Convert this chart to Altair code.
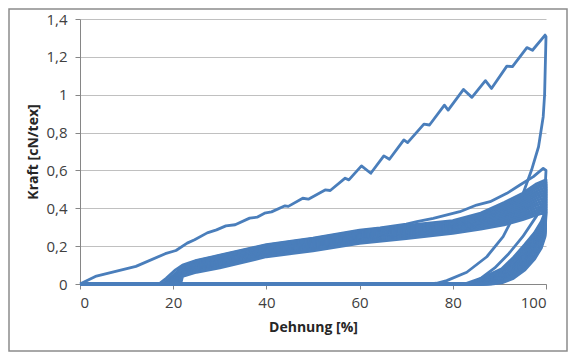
import altair as alt
import pandas as pd

BLUE = "#4A7EBB"

# Cycle 1 (first loading with zigzag, then unloading)
C1_X = [0, 3.3, 12, 18.3, 20.6, 23, 24.6, 27.3, 29.3, 31.3, 33.3, 36.4, 38, 39.6, 41.1,
        44, 44.7, 47.8, 49, 52.6, 53.7, 56.9, 57.7, 60.4, 62.4, 65.2, 66.4, 69.5, 70.3,
        73.8, 75, 78.2, 79, 82.3, 84.1, 87, 88.3, 91.6, 92.8, 95.9, 97.1, 99.8, 100,
        99.7, 99.4, 98.4, 96.9, 95.1, 93.0, 90.8, 87.3, 83.0, 78.7, 76.5, 75.0, 0]
C1_Y = [0, 0.04, 0.093, 0.16, 0.177, 0.216, 0.234, 0.27, 0.286, 0.307, 0.313, 0.348, 0.353,
        0.374, 0.381, 0.413, 0.41, 0.453, 0.448, 0.497, 0.494, 0.559, 0.55, 0.624, 0.585,
        0.677, 0.659, 0.761, 0.747, 0.845, 0.84, 0.945, 0.919, 1.028, 0.986, 1.074, 1.033,
        1.151, 1.148, 1.249, 1.235, 1.315, 1.306,
        1.0, 0.884, 0.725, 0.602, 0.479, 0.356, 0.25, 0.144, 0.062, 0.018, 0.004, 0, 0]

# Cycle 2 (upper edge of band, peak ~0.6)
C2_X = [0, 16.9, 18.5, 20.5, 22, 25, 30, 40, 50, 60, 64.4, 70, 72.3, 75.8, 81.5, 85.1, 88,
        91.6, 94.4, 97.3, 99.4, 100, 99.7, 98, 95, 92, 89, 86, 82.5, 0]
C2_Y = [0, 0, 0.03, 0.075, 0.1, 0.125, 0.152, 0.208, 0.242, 0.284, 0.296, 0.316, 0.329, 0.347,
        0.382, 0.417, 0.435, 0.479, 0.523, 0.567, 0.611, 0.6, 0.45, 0.36, 0.25, 0.16, 0.085,
        0.03, 0, 0]

# Band cycles: shared x grids for loading / unloading
LOAD_X = [22, 25, 30, 40, 50, 60, 70, 80, 86, 91, 95, 98, 100]
UNLOAD_X = [99.8, 99, 97.5, 95.5, 93, 90.5]

BAND_START = [17.8, 18.1, 18.4, 18.7, 19.0, 19.3, 19.6, 19.9, 20.2, 20.5, 20.8, 21.0, 21.3, 21.6]
BAND_END = [83.5, 83.9, 84.2, 84.6, 85.0, 85.4, 85.7, 86.1, 86.5, 86.8, 87.2, 87.6, 87.9, 88.3]
BAND_LOAD = [
    [0.090, 0.122, 0.150, 0.205, 0.240, 0.280, 0.310, 0.335, 0.375, 0.430, 0.480, 0.530, 0.550],
    [0.086, 0.117, 0.145, 0.200, 0.235, 0.275, 0.305, 0.330, 0.368, 0.421, 0.469, 0.517, 0.537],
    [0.082, 0.113, 0.140, 0.196, 0.230, 0.270, 0.299, 0.325, 0.362, 0.412, 0.458, 0.505, 0.524],
    [0.079, 0.108, 0.135, 0.191, 0.225, 0.265, 0.294, 0.320, 0.355, 0.403, 0.448, 0.492, 0.511],
    [0.075, 0.104, 0.130, 0.186, 0.220, 0.260, 0.288, 0.314, 0.349, 0.394, 0.437, 0.479, 0.498],
    [0.071, 0.099, 0.125, 0.182, 0.215, 0.255, 0.283, 0.309, 0.342, 0.385, 0.426, 0.467, 0.485],
    [0.067, 0.094, 0.120, 0.177, 0.210, 0.250, 0.278, 0.304, 0.336, 0.376, 0.415, 0.454, 0.472],
    [0.063, 0.090, 0.115, 0.172, 0.205, 0.245, 0.272, 0.299, 0.329, 0.366, 0.404, 0.441, 0.458],
    [0.059, 0.085, 0.110, 0.168, 0.200, 0.240, 0.267, 0.294, 0.323, 0.357, 0.394, 0.428, 0.445],
    [0.056, 0.081, 0.105, 0.163, 0.195, 0.235, 0.261, 0.288, 0.316, 0.348, 0.383, 0.416, 0.432],
    [0.052, 0.076, 0.100, 0.158, 0.190, 0.230, 0.256, 0.283, 0.310, 0.339, 0.372, 0.403, 0.419],
    [0.048, 0.071, 0.095, 0.154, 0.185, 0.225, 0.251, 0.278, 0.303, 0.330, 0.361, 0.390, 0.406],
    [0.044, 0.067, 0.090, 0.149, 0.180, 0.220, 0.245, 0.273, 0.297, 0.321, 0.351, 0.378, 0.393],
    [0.040, 0.062, 0.085, 0.144, 0.175, 0.215, 0.240, 0.268, 0.290, 0.312, 0.340, 0.365, 0.380],
]
BAND_UNLOAD = [
    [0.38, 0.33, 0.27, 0.21, 0.140, 0.080],
    [0.37, 0.32, 0.26, 0.20, 0.131, 0.074],
    [0.36, 0.31, 0.25, 0.19, 0.123, 0.069],
    [0.35, 0.30, 0.24, 0.18, 0.114, 0.063],
    [0.34, 0.29, 0.23, 0.17, 0.106, 0.057],
    [0.33, 0.28, 0.22, 0.158, 0.097, 0.051],
    [0.32, 0.27, 0.21, 0.148, 0.089, 0.046],
    [0.31, 0.26, 0.20, 0.138, 0.080, 0.040],
    [0.30, 0.25, 0.19, 0.127, 0.072, 0.034],
    [0.29, 0.24, 0.18, 0.117, 0.063, 0.029],
    [0.28, 0.23, 0.17, 0.106, 0.055, 0.023],
    [0.27, 0.21, 0.15, 0.096, 0.047, 0.017],
    [0.26, 0.20, 0.14, 0.085, 0.038, 0.012],
    [0.25, 0.19, 0.13, 0.075, 0.030, 0.006],
]

X_TICKS = [0, 20, 40, 60, 80, 100]
Y_TICKS = [0, 0.2, 0.4, 0.6, 0.8, 1.0, 1.2, 1.4]

rows = []
def add(cid, xs, ys):
    for i, (a, b) in enumerate(zip(xs, ys)):
        rows.append({"cycle": cid, "i": i, "x": a, "y": b})

add(1, C1_X, C1_Y)
add(2, C2_X, C2_Y)
for k in range(len(BAND_LOAD)):
    xs = [0, BAND_START[k]] + LOAD_X + UNLOAD_X + [BAND_END[k], 0]
    ys = [0, 0] + BAND_LOAD[k] + BAND_UNLOAD[k] + [0, 0]
    add(3 + k, xs, ys)

df = pd.DataFrame(rows)

W, H = 466, 265
PL, PT = 72, 11
TOTAL_W, TOTAL_H = 560, 344

lines = alt.Chart(df).mark_line(color=BLUE, strokeWidth=2.8, strokeJoin="round").encode(
    x=alt.X("x:Q", scale=alt.Scale(domain=[0, 100], nice=False),
            axis=alt.Axis(values=X_TICKS, title="Dehnung [%]", grid=False,
                          labelPadding=6, titlePadding=10)),
    y=alt.Y("y:Q", scale=alt.Scale(domain=[0, 1.4], nice=False),
            axis=alt.Axis(values=Y_TICKS, title="Kraft [cN/tex]", grid=True,
                          labelExpr="replace(format(datum.value, '~g'), '.', ',')",
                          labelPadding=8, titlePadding=5)),
    order="i:Q",
    detail="cycle:N",
)

border = alt.Chart(pd.DataFrame({"a": [0]})).mark_rect(
    filled=False, stroke="#8c8c8c", strokeWidth=1.5
).encode(
    x=alt.value(-PL + 1), x2=alt.value(TOTAL_W - PL - 1),
    y=alt.value(-PT + 1), y2=alt.value(TOTAL_H - PT - 1),
)

chart = alt.layer(border, lines).properties(
    width=W, height=H,
    autosize=alt.AutoSizeParams(type="none"),
    padding={"left": PL, "top": PT, "right": TOTAL_W - PL - W, "bottom": TOTAL_H - PT - H},
    background="white",
).configure_view(stroke=None).configure_axis(
    labelFont="Open Sans", titleFont="Open Sans", labelFontSize=15, titleFontSize=14,
    labelColor="#404040", titleColor="#262626", titleFontWeight="bold",
    domainColor="#868686", tickColor="#868686", tickSize=5,
    gridColor="#c0c0c0", gridWidth=1,
)

chart.save("out.html", embed_options={"renderer": "svg", "actions": False})
